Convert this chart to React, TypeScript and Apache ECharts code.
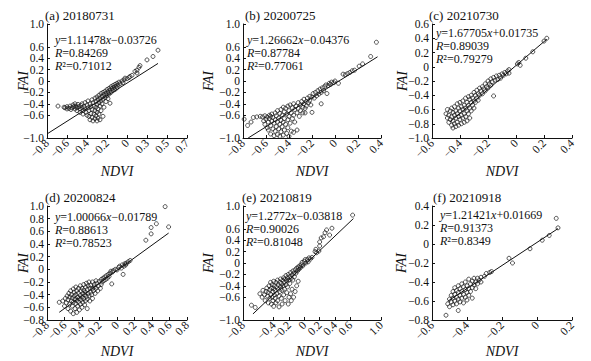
import React, { useEffect, useRef } from 'react';
import * as echarts from 'echarts';

// ---------- data ----------
const titles = ['(a) 20180731', '(b) 20200725', '(c) 20210730', '(d) 20200824', '(e) 20210819', '(f) 20210918'];
const slopes = [1.11478, 1.26662, 1.67705, 1.00066, 1.2772, 1.21421];
const intercepts = [-0.03726, -0.04376, 0.01735, -0.01789, -0.03818, 0.01669];
const rValues = ['0.84269', '0.87784', '0.89039', '0.88613', '0.90026', '0.91373'];
const r2Values = ['0.71012', '0.77061', '0.79279', '0.78523', '0.81048', '0.8349'];
// x extent of each fitted line
const fitStart = [-0.8, -0.755, -0.47, -0.66, -0.67, -0.51];
const fitEnd = [0.31, 0.37, 0.22, 0.59, 0.64, 0.12];
// axis ranges
const xMins = [-0.8, -0.8, -0.6, -0.8, -0.8, -0.6];
const xMaxs = [0.6, 0.4, 0.4, 0.8, 1.0, 0.2];
const yMins = [-1.0, -1.0, -1.0, -0.8, -1.0, -0.8];
const yMaxs = [1.0, 1.0, 0.6, 1.0, 1.0, 0.4];
// panel (a) tick labels as printed in the original figure
const xTickLabelsA = ['−0.8', '−0.6', '−0.4', '−0.2', '0', '0.3', '0.5', '0.7'];

const pointsA: number[][] = [
  [-0.69, -0.44], [-0.63, -0.46], [-0.62, -0.47], [-0.6, -0.45], [-0.6, -0.49], [-0.58, -0.48], [-0.57, -0.44],
  [-0.56, -0.5], [-0.55, -0.47], [-0.54, -0.42], [-0.53, -0.45], [-0.52, -0.49], [-0.52, -0.4], [-0.51, -0.44],
  [-0.5, -0.47], [-0.5, -0.52], [-0.49, -0.41], [-0.48, -0.45], [-0.47, -0.49], [-0.47, -0.55], [-0.46, -0.43],
  [-0.45, -0.47], [-0.45, -0.4], [-0.44, -0.52], [-0.44, -0.58], [-0.43, -0.45], [-0.42, -0.38], [-0.42, -0.49],
  [-0.41, -0.55], [-0.4, -0.42], [-0.4, -0.6], [-0.39, -0.35], [-0.39, -0.47], [-0.38, -0.52], [-0.38, -0.62],
  [-0.37, -0.4], [-0.37, -0.68], [-0.36, -0.45], [-0.36, -0.57], [-0.35, -0.33], [-0.35, -0.5], [-0.35, -0.64],
  [-0.34, -0.38], [-0.34, -0.7], [-0.33, -0.44], [-0.33, -0.58], [-0.32, -0.3], [-0.32, -0.52], [-0.32, -0.66],
  [-0.31, -0.36], [-0.31, -0.46], [-0.31, -0.61], [-0.3, -0.28], [-0.3, -0.41], [-0.3, -0.55], [-0.3, -0.7],
  [-0.29, -0.33], [-0.29, -0.49], [-0.29, -0.65], [-0.28, -0.25], [-0.28, -0.38], [-0.28, -0.58], [-0.27, -0.3],
  [-0.27, -0.44], [-0.27, -0.68], [-0.26, -0.22], [-0.26, -0.35], [-0.26, -0.52], [-0.25, -0.27], [-0.25, -0.4],
  [-0.24, -0.2], [-0.24, -0.32], [-0.24, -0.62], [-0.23, -0.24], [-0.23, -0.46], [-0.22, -0.18], [-0.22, -0.29],
  [-0.21, -0.22], [-0.21, -0.36], [-0.2, -0.15], [-0.2, -0.26], [-0.19, -0.19], [-0.19, -0.31], [-0.18, -0.13],
  [-0.18, -0.23], [-0.17, -0.16], [-0.17, -0.39], [-0.16, -0.1], [-0.16, -0.2], [-0.15, -0.13], [-0.14, -0.08],
  [-0.14, -0.17], [-0.13, -0.11], [-0.12, -0.06], [-0.12, -0.15], [-0.11, -0.09], [-0.1, -0.04], [-0.1, -0.12],
  [-0.09, -0.07], [-0.08, -0.02], [-0.07, -0.05], [-0.05, 0.0], [-0.04, -0.03], [-0.03, 0.02], [-0.02, 0.05],
  [0.0, 0.04], [0.02, 0.06], [0.03, 0.08], [0.05, 0.1], [0.08, 0.17], [0.1, 0.19], [0.1, 0.14], [0.12, 0.24],
  [0.13, 0.27], [0.2, 0.37], [0.26, 0.43], [0.31, 0.54],
];

const pointsB: number[][] = [
  [-0.79, -0.67], [-0.76, -0.78], [-0.73, -0.72], [-0.71, -0.64], [-0.68, -0.63], [-0.65, -0.62], [-0.63, -0.63],
  [-0.61, -0.61], [-0.59, -0.63], [-0.57, -0.6], [-0.56, -0.62], [-0.62, -0.7], [-0.61, -0.76], [-0.6, -0.67],
  [-0.59, -0.82], [-0.58, -0.72], [-0.58, -0.86], [-0.57, -0.66], [-0.56, -0.78], [-0.56, -0.93], [-0.55, -0.7],
  [-0.55, -0.58], [-0.54, -0.84], [-0.54, -0.64], [-0.53, -0.74], [-0.53, -0.96], [-0.52, -0.56], [-0.52, -0.68],
  [-0.52, -0.88], [-0.51, -0.8], [-0.51, -0.61], [-0.5, -0.52], [-0.5, -0.72], [-0.5, -0.94], [-0.49, -0.65],
  [-0.49, -0.84], [-0.48, -0.57], [-0.48, -0.76], [-0.48, -0.97], [-0.47, -0.5], [-0.47, -0.69], [-0.47, -0.89],
  [-0.46, -0.6], [-0.46, -0.8], [-0.45, -0.46], [-0.45, -0.72], [-0.45, -0.95], [-0.44, -0.54], [-0.44, -0.66],
  [-0.44, -0.86], [-0.43, -0.48], [-0.43, -0.76], [-0.42, -0.58], [-0.42, -0.92], [-0.41, -0.44], [-0.41, -0.68],
  [-0.41, -0.82], [-0.4, -0.52], [-0.4, -0.62], [-0.4, -0.97], [-0.39, -0.42], [-0.39, -0.74], [-0.38, -0.56],
  [-0.38, -0.88], [-0.37, -0.47], [-0.37, -0.66], [-0.36, -0.4], [-0.36, -0.6], [-0.36, -0.9], [-0.35, -0.5],
  [-0.35, -0.72], [-0.34, -0.44], [-0.33, -0.56], [-0.33, -0.86], [-0.32, -0.38], [-0.32, -0.48], [-0.31, -0.62],
  [-0.3, -0.42], [-0.3, -0.52], [-0.29, -0.36], [-0.28, -0.46], [-0.28, -0.56], [-0.27, -0.32], [-0.27, -0.4],
  [-0.26, -0.48], [-0.26, -0.56], [-0.25, -0.36], [-0.25, -0.44], [-0.24, -0.3], [-0.23, -0.38], [-0.22, -0.27],
  [-0.22, -0.34], [-0.21, -0.42], [-0.2, -0.28], [-0.2, -0.55], [-0.19, -0.22], [-0.18, -0.3], [-0.17, -0.2],
  [-0.16, -0.26], [-0.15, -0.17], [-0.14, -0.23], [-0.13, -0.14], [-0.12, -0.2], [-0.12, -0.4], [-0.11, -0.12],
  [-0.1, -0.17], [-0.09, -0.1], [-0.08, -0.07], [-0.07, -0.22], [-0.06, -0.08], [-0.05, -0.04], [-0.04, -0.06],
  [-0.03, -0.02], [-0.01, -0.03], [0.0, 0.0], [0.03, -0.04], [0.07, 0.12], [0.09, 0.11], [0.11, 0.13],
  [0.13, 0.15], [0.15, 0.18], [0.17, 0.19], [0.21, 0.26], [0.24, 0.3], [0.31, 0.43], [0.36, 0.68],
];

const pointsC: number[][] = [
  [-0.5, -0.66], [-0.49, -0.72], [-0.49, -0.6], [-0.48, -0.78], [-0.48, -0.68], [-0.47, -0.62], [-0.47, -0.74],
  [-0.46, -0.58], [-0.46, -0.82], [-0.46, -0.7], [-0.45, -0.86], [-0.45, -0.64], [-0.45, -0.76], [-0.44, -0.56],
  [-0.44, -0.68], [-0.44, -0.8], [-0.43, -0.62], [-0.43, -0.72], [-0.43, -0.84], [-0.42, -0.52], [-0.42, -0.66],
  [-0.42, -0.78], [-0.41, -0.58], [-0.41, -0.7], [-0.41, -0.82], [-0.4, -0.5], [-0.4, -0.62], [-0.4, -0.74],
  [-0.39, -0.56], [-0.39, -0.68], [-0.39, -0.8], [-0.38, -0.48], [-0.38, -0.6], [-0.38, -0.72], [-0.37, -0.54],
  [-0.37, -0.66], [-0.37, -0.78], [-0.36, -0.44], [-0.36, -0.58], [-0.36, -0.7], [-0.35, -0.5], [-0.35, -0.62],
  [-0.35, -0.76], [-0.34, -0.42], [-0.34, -0.54], [-0.34, -0.66], [-0.33, -0.46], [-0.33, -0.58], [-0.33, -0.72],
  [-0.32, -0.4], [-0.32, -0.5], [-0.32, -0.62], [-0.31, -0.44], [-0.31, -0.54], [-0.3, -0.36], [-0.3, -0.48],
  [-0.3, -0.58], [-0.29, -0.4], [-0.29, -0.5], [-0.28, -0.33], [-0.28, -0.44], [-0.27, -0.38], [-0.27, -0.47],
  [-0.26, -0.3], [-0.26, -0.4], [-0.25, -0.34], [-0.24, -0.28], [-0.24, -0.38], [-0.23, -0.31], [-0.22, -0.24],
  [-0.22, -0.34], [-0.21, -0.28], [-0.2, -0.2], [-0.2, -0.3], [-0.19, -0.24], [-0.18, -0.17], [-0.18, -0.26],
  [-0.17, -0.21], [-0.16, -0.15], [-0.16, -0.41], [-0.15, -0.19], [-0.14, -0.13], [-0.13, -0.18], [-0.12, -0.12],
  [-0.11, -0.16], [-0.1, -0.1], [-0.09, -0.12], [-0.08, -0.08], [-0.07, -0.1], [-0.06, -0.06], [-0.05, -0.09],
  [-0.05, -0.04], [0.01, 0.04], [0.02, 0.06], [0.03, 0.02], [0.07, 0.12], [0.12, 0.21], [0.2, 0.36], [0.22, 0.4],
];

const pointsD: number[][] = [
  [-0.66, -0.52], [-0.62, -0.5], [-0.6, -0.58], [-0.59, -0.46], [-0.58, -0.53], [-0.57, -0.42], [-0.56, -0.62],
  [-0.56, -0.48], [-0.55, -0.38], [-0.54, -0.55], [-0.54, -0.44], [-0.53, -0.66], [-0.53, -0.34], [-0.52, -0.5],
  [-0.52, -0.4], [-0.51, -0.58], [-0.51, -0.45], [-0.5, -0.31], [-0.5, -0.7], [-0.5, -0.52], [-0.49, -0.42],
  [-0.49, -0.36], [-0.48, -0.62], [-0.48, -0.47], [-0.47, -0.28], [-0.47, -0.54], [-0.47, -0.4], [-0.46, -0.34],
  [-0.46, -0.68], [-0.46, -0.49], [-0.45, -0.44], [-0.45, -0.58], [-0.44, -0.3], [-0.44, -0.38], [-0.44, -0.52],
  [-0.43, -0.46], [-0.43, -0.64], [-0.42, -0.26], [-0.42, -0.41], [-0.42, -0.55], [-0.41, -0.34], [-0.41, -0.48],
  [-0.4, -0.3], [-0.4, -0.44], [-0.4, -0.6], [-0.39, -0.38], [-0.39, -0.52], [-0.38, -0.24], [-0.38, -0.33],
  [-0.38, -0.46], [-0.37, -0.4], [-0.37, -0.56], [-0.36, -0.28], [-0.36, -0.36], [-0.36, -0.5], [-0.35, -0.22],
  [-0.35, -0.43], [-0.34, -0.32], [-0.34, -0.47], [-0.34, -0.62], [-0.33, -0.26], [-0.33, -0.38], [-0.32, -0.2],
  [-0.32, -0.42], [-0.31, -0.3], [-0.31, -0.5], [-0.3, -0.25], [-0.3, -0.36], [-0.29, -0.4], [-0.28, -0.2],
  [-0.28, -0.3], [-0.28, -0.46], [-0.27, -0.34], [-0.26, -0.24], [-0.26, -0.28], [-0.25, -0.38], [-0.24, -0.18],
  [-0.24, -0.3], [-0.23, -0.22], [-0.22, -0.34], [-0.21, -0.26], [-0.2, -0.19], [-0.19, -0.3], [-0.18, -0.16],
  [-0.18, -0.24], [-0.17, -0.2], [-0.16, -0.14], [-0.15, -0.18], [-0.14, -0.12], [-0.13, -0.16], [-0.12, -0.1],
  [-0.11, -0.14], [-0.1, -0.08], [-0.09, -0.11], [-0.08, -0.06], [-0.07, -0.03], [-0.06, -0.23], [-0.05, -0.04],
  [-0.04, -0.02], [-0.02, 0.0], [0.0, -0.01], [0.02, 0.03], [0.03, 0.05], [0.05, 0.02], [0.06, 0.07],
  [0.07, -0.08], [0.08, 0.05], [0.09, 0.09], [0.1, 0.07], [0.11, 0.1], [0.13, 0.12], [0.15, 0.14],
  [0.33, 0.46], [0.39, 0.56], [0.39, 0.66], [0.45, 0.72], [0.55, 0.99], [0.59, 0.67],
];

const pointsE: number[][] = [
  [-0.69, -0.74], [-0.64, -0.78], [-0.58, -0.54], [-0.55, -0.6], [-0.54, -0.48], [-0.52, -0.56], [-0.51, -0.66],
  [-0.5, -0.5], [-0.49, -0.44], [-0.48, -0.58], [-0.47, -0.7], [-0.47, -0.52], [-0.46, -0.4], [-0.45, -0.62],
  [-0.45, -0.47], [-0.44, -0.34], [-0.44, -0.55], [-0.43, -0.72], [-0.43, -0.44], [-0.42, -0.6], [-0.42, -0.38],
  [-0.41, -0.5], [-0.41, -0.66], [-0.4, -0.32], [-0.4, -0.45], [-0.4, -0.76], [-0.39, -0.56], [-0.39, -0.4],
  [-0.38, -0.62], [-0.38, -0.48], [-0.37, -0.34], [-0.37, -0.7], [-0.36, -0.42], [-0.36, -0.54], [-0.35, -0.3],
  [-0.35, -0.66], [-0.34, -0.46], [-0.34, -0.38], [-0.33, -0.58], [-0.33, -0.77], [-0.32, -0.34], [-0.32, -0.5],
  [-0.31, -0.28], [-0.31, -0.42], [-0.3, -0.62], [-0.3, -0.36], [-0.29, -0.48], [-0.29, -0.72], [-0.28, -0.3],
  [-0.28, -0.4], [-0.27, -0.56], [-0.27, -0.26], [-0.26, -0.34], [-0.26, -0.46], [-0.25, -0.66], [-0.25, -0.28],
  [-0.24, -0.38], [-0.24, -0.22], [-0.23, -0.52], [-0.23, -0.31], [-0.22, -0.26], [-0.22, -0.42], [-0.21, -0.72],
  [-0.21, -0.2], [-0.2, -0.3], [-0.2, -0.6], [-0.19, -0.24], [-0.19, -0.36], [-0.18, -0.17], [-0.18, -0.54],
  [-0.17, -0.27], [-0.17, -0.66], [-0.16, -0.21], [-0.16, -0.46], [-0.15, -0.14], [-0.15, -0.3], [-0.14, -0.6],
  [-0.14, -0.18], [-0.13, -0.24], [-0.12, -0.12], [-0.12, -0.5], [-0.11, -0.18], [-0.1, -0.09], [-0.1, -0.4],
  [-0.09, -0.14], [-0.08, -0.07], [-0.08, -0.32], [-0.07, -0.11], [-0.06, -0.05], [-0.05, -0.08], [-0.04, -0.03],
  [-0.03, 0.01], [-0.02, -0.05], [0.0, 0.03], [0.01, 0.06], [0.02, 0.0], [0.04, 0.06], [0.05, 0.02],
  [0.06, 0.09], [0.08, 0.07], [0.1, 0.1], [0.14, 0.2], [0.15, 0.24], [0.16, 0.18], [0.19, 0.21], [0.2, 0.3],
  [0.2, 0.37], [0.22, 0.44], [0.25, 0.46], [0.27, 0.53], [0.29, 0.58], [0.33, 0.49], [0.36, 0.61], [0.63, 0.84],
];

const pointsF: number[][] = [
  [-0.52, -0.75], [-0.51, -0.63], [-0.5, -0.58], [-0.5, -0.66], [-0.49, -0.54], [-0.49, -0.61], [-0.48, -0.5],
  [-0.48, -0.57], [-0.48, -0.64], [-0.47, -0.46], [-0.47, -0.53], [-0.47, -0.6], [-0.46, -0.49], [-0.46, -0.56],
  [-0.46, -0.63], [-0.45, -0.44], [-0.45, -0.51], [-0.45, -0.58], [-0.45, -0.7], [-0.44, -0.47], [-0.44, -0.54],
  [-0.44, -0.61], [-0.43, -0.42], [-0.43, -0.5], [-0.43, -0.57], [-0.42, -0.45], [-0.42, -0.53], [-0.42, -0.62],
  [-0.41, -0.4], [-0.41, -0.48], [-0.41, -0.56], [-0.4, -0.44], [-0.4, -0.51], [-0.4, -0.59], [-0.39, -0.37],
  [-0.39, -0.47], [-0.39, -0.54], [-0.38, -0.42], [-0.38, -0.5], [-0.37, -0.39], [-0.37, -0.46], [-0.37, -0.57],
  [-0.36, -0.36], [-0.36, -0.43], [-0.35, -0.4], [-0.35, -0.47], [-0.34, -0.36], [-0.34, -0.42], [-0.33, -0.38],
  [-0.32, -0.35], [-0.32, -0.4], [-0.3, -0.34], [-0.29, -0.31], [-0.27, -0.3], [-0.26, -0.29], [-0.16, -0.15],
  [-0.14, -0.2], [-0.04, -0.05], [0.03, 0.04], [0.07, 0.09], [0.11, 0.27], [0.12, 0.17],
];

const allPoints = [pointsA, pointsB, pointsC, pointsD, pointsE, pointsF];

// ---------- layout ----------
const grids = [
  { left: 47, top: 24, width: 140, height: 114 },
  { left: 243, top: 24, width: 138, height: 114 },
  { left: 432, top: 24, width: 140, height: 114 },
  { left: 47, top: 206, width: 140, height: 114 },
  { left: 243, top: 206, width: 138, height: 114 },
  { left: 432, top: 206, width: 140, height: 114 },
];
const yNameGaps = [17, 28, 23, 17, 28, 24];
const xNameGaps = [26, 26, 26, 24, 24, 24];
const titlePos = [[45, 15], [245, 15], [429, 15], [45, 197], [242, 197], [433, 197]];
// x, then y of first line; lines are LINE_STEP apart
const eqPos = [
  [55, 40],
  [247, 40],
  [436, 33],
  [55, 217],
  [246, 216],
  [440, 215],
];
const LINE_STEP = 13;

const FONT = 'Liberation Serif, Times New Roman, Times, serif';
const fmt = (v: number) => (Math.abs(v) < 1e-9 ? '0' : v.toFixed(1).replace('-', '−'));

export default function App() {
  const ref = useRef<HTMLDivElement>(null);
  useEffect(() => {
    if (!ref.current) return;
    const chart = echarts.init(ref.current, undefined, { renderer: 'svg' });

    const xAxis: any[] = [];
    const yAxis: any[] = [];
    const series: any[] = [];
    const graphic: any[] = [];
    const rich = {
      i: { fontStyle: 'italic', fontFamily: FONT, fontSize: 12, fill: '#111', lineHeight: 11 },
      n: { fontFamily: FONT, fontSize: 12, fill: '#111', lineHeight: 11 },
    };

    grids.forEach((g, k) => {
      xAxis.push({
        type: 'value',
        gridIndex: k,
        min: xMins[k],
        max: xMaxs[k],
        interval: 0.2,
        name: 'NDVI',
        nameLocation: 'middle',
        nameGap: xNameGaps[k],
        nameMoveOverlap: false,
        nameTextStyle: { fontFamily: FONT, fontStyle: 'italic', fontSize: 14, color: '#111' },
        axisLine: { show: true, onZero: false, lineStyle: { color: '#111', width: 1 } },
        axisTick: { show: true, inside: true, length: 3, lineStyle: { color: '#111' } },
        axisLabel: {
          rotate: 45,
          margin: 3,
          fontFamily: FONT,
          fontSize: 11.5,
          lineHeight: 11,
          color: '#111',
          showMinLabel: true,
          showMaxLabel: true,
          hideOverlap: false,
          formatter: k === 0 ? (_v: number, i: number) => xTickLabelsA[i] : (v: number) => fmt(v),
        },
        splitLine: { show: false },
      });
      yAxis.push({
        type: 'value',
        gridIndex: k,
        min: yMins[k],
        max: yMaxs[k],
        interval: 0.2,
        name: 'FAI',
        nameLocation: 'middle',
        nameGap: yNameGaps[k],
        nameMoveOverlap: false,
        nameTextStyle: { fontFamily: FONT, fontStyle: 'italic', fontSize: 14, color: '#111' },
        axisLine: { show: true, onZero: false, lineStyle: { color: '#111', width: 1 } },
        axisTick: { show: true, inside: true, length: 3, lineStyle: { color: '#111' } },
        axisLabel: {
          margin: 3,
          fontFamily: FONT,
          fontSize: 11.5,
          lineHeight: 10,
          color: '#111',
          showMinLabel: true,
          showMaxLabel: true,
          hideOverlap: false,
          formatter: (v: number) => fmt(v),
        },
        splitLine: { show: false },
      });
      series.push({
        type: 'scatter',
        xAxisIndex: k,
        yAxisIndex: k,
        data: allPoints[k],
        symbol: 'circle',
        symbolSize: 4,
        itemStyle: { color: 'rgba(255,255,255,0)', borderColor: '#151515', borderWidth: 0.9 },
        z: 3,
      });
      const s = slopes[k];
      const b = intercepts[k];
      series.push({
        type: 'line',
        xAxisIndex: k,
        yAxisIndex: k,
        data: [
          [fitStart[k], s * fitStart[k] + b],
          [fitEnd[k], s * fitEnd[k] + b],
        ],
        symbol: 'none',
        lineStyle: { color: '#111', width: 1 },
        z: 2,
      });

      graphic.push({
        type: 'text',
        x: titlePos[k][0],
        y: titlePos[k][1],
        style: { text: titles[k], fontFamily: FONT, fontSize: 13, fill: '#111', verticalAlign: 'middle' },
      });
      const sign = b < 0 ? '−' : '+';
      const eq = `{i|y}{n|=${s}}{i|x}{n|${sign}${Math.abs(b)}}`;
      const [ex, ey] = eqPos[k];
      const lines = [eq, `{i|R}{n|=${rValues[k]}}`, `{i|R}{n|²=${r2Values[k]}}`];
      lines.forEach((t, j) => {
        graphic.push({
          type: 'text',
          x: ex,
          y: ey + j * LINE_STEP,
          style: { text: t, rich, fontFamily: FONT, fontSize: 12, fill: '#111', verticalAlign: 'middle' },
        });
      });
    });

    chart.setOption({
      animation: false,
      backgroundColor: '#fff',
      grid: grids.map((g) => ({ ...g, containLabel: false })),
      xAxis,
      yAxis,
      series,
      graphic,
    });
    return () => chart.dispose();
  }, []);

  return (
    <div
      ref={ref}
      style={{ position: 'fixed', left: 0, top: 0, width: 591, height: 361, background: '#fff' }}
    />
  );
}
